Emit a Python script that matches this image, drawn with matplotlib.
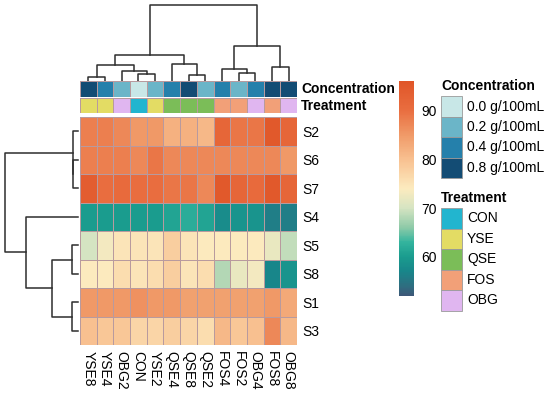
import matplotlib
matplotlib.use("Agg")
import matplotlib.pyplot as plt
import numpy as np
from matplotlib.colors import LinearSegmentedColormap, ListedColormap, Normalize
from matplotlib.cm import ScalarMappable
from matplotlib.patches import Rectangle

plt.rcParams['font.family'] = ['Liberation Sans', 'DejaVu Sans']

# column / row labels in clustered display order
samples = ['YSE8', 'YSE4', 'OBG2', 'CON', 'YSE2', 'QSE4', 'QSE8', 'QSE2',
           'FOS4', 'FOS2', 'OBG4', 'FOS8', 'OBG8']
rows = ['S2', 'S6', 'S7', 'S4', 'S5', 'S8', 'S1', 'S3']

# heatmap values
S2 = [88, 88, 87, 85, 85, 82, 82, 81, 92, 89, 89, 95, 92]
S6 = [88, 88, 88, 87, 89, 87, 87, 87, 87, 87, 87, 87, 85]
S7 = [94, 90, 91, 90, 90, 89, 89, 87, 95, 92, 91, 95, 92]
S4 = [60, 60, 60, 60, 60, 61, 62, 61, 58, 59, 59, 56, 56]
S5 = [70, 73, 75, 75, 75, 78, 75, 74, 74, 74, 74, 72, 69]
S8 = [74, 74, 76, 75, 76, 78, 75, 76, 68, 72, 73, 57, 59]
S1 = [85, 85, 85, 86, 85, 85, 84, 84, 84, 84, 84, 85, 83]
S3 = [80, 79, 79, 77, 77, 78, 77, 76, 81, 79, 80, 87, 81]
values = np.array([S2, S6, S7, S4, S5, S8, S1, S3])

# annotations
conc_levels = ['0.0 g/100mL', '0.2 g/100mL', '0.4 g/100mL', '0.8 g/100mL']
conc_colors = ['#C8E7E7', '#6BB5C8', '#2580AB', '#134C74']
treat_levels = ['CON', 'YSE', 'QSE', 'FOS', 'OBG']
treat_colors = ['#22B5CF', '#E3DC64', '#7BBD58', '#F2A078', '#E0B6F0']
sample_conc = [3, 2, 1, 0, 1, 2, 3, 1, 2, 1, 2, 3, 3]
sample_treat = [treat_levels.index(s[:3]) for s in samples]

# dendrogram merges: (left, right, height); ids >= n are earlier merges
col_merges = [(0, 1, 4), (3, 4, 7), (2, 14, 10), (13, 15, 16), (6, 7, 6),
              (5, 17, 17), (16, 18, 26), (9, 10, 8), (8, 20, 12),
              (11, 12, 14), (21, 22, 35), (19, 23, 76)]
row_merges = [(1, 2, 5), (0, 8, 5.5), (4, 5, 6), (6, 7, 6), (10, 11, 26),
              (3, 12, 52), (9, 13, 73)]

vmin, vmax = 52, 96
cb_ticks = [60, 70, 80, 90]
stops = [52, 54, 57, 60, 63, 66, 70, 74, 80, 85, 90, 96]
stop_colors = ['#3D5878', '#2E6E80', '#18868A', '#1A9C8E', '#34B49E', '#8ECAA8',
               '#D6E4C2', '#FCEBBF', '#F8C090', '#F09A68', '#E96E40', '#E05528']
cmap = LinearSegmentedColormap.from_list(
    'hm', [((s - vmin) / (vmax - vmin), c) for s, c in zip(stops, stop_colors)])

W, H = 550, 396
fig = plt.figure(figsize=(W / 100, H / 100), dpi=100)


def px_axes(x0, y0, x1, y1):
    return fig.add_axes([x0 / W, 1 - y1 / H, (x1 - x0) / W, (y1 - y0) / H])


def draw_dend(ax, merges, n, top):
    pos = {i: i + 0.5 for i in range(n)}
    hgt = {i: 0 for i in range(n)}
    for k, (a, b, h) in enumerate(merges):
        xs = [pos[a], pos[a], pos[b], pos[b]]
        hs = [hgt[a], h, h, hgt[b]]
        if top:
            ax.plot(xs, hs, color='#2E2E2E', lw=1.1, clip_on=False)
        else:
            ax.plot(hs, xs, color='#2E2E2E', lw=1.1, clip_on=False)
        pos[n + k] = (pos[a] + pos[b]) / 2
        hgt[n + k] = h


hx0, hx1 = 80, 297
edge = '#B89A9E'

# column dendrogram
ax = px_axes(hx0, 5, hx1, 81)
draw_dend(ax, col_merges, len(samples), True)
ax.set_xlim(0, len(samples))
ax.set_ylim(0, 76)
ax.axis('off')

# row dendrogram
ax = px_axes(5, 117, 78, 345)
draw_dend(ax, row_merges, len(rows), False)
ax.set_xlim(73, 0)
ax.set_ylim(len(rows), 0)
ax.axis('off')

# annotation rows
for (y0, y1), codes, cols, name in [((81, 97), sample_conc, conc_colors, 'Concentration'),
                                    ((98, 113), sample_treat, treat_colors, 'Treatment')]:
    ax = px_axes(hx0, y0, hx1, y1)
    ax.pcolormesh(np.array([codes]), cmap=ListedColormap(cols), vmin=-0.5,
                  vmax=len(cols) - 0.5, edgecolors=edge, linewidth=0.7)
    ax.set_xlim(0, len(samples))
    ax.axis('off')
    ax.text(1.02, 0.5, name, transform=ax.transAxes, ha='left', va='center',
            fontsize=10, fontweight='bold')

# heatmap
ax = px_axes(hx0, 117, hx1, 345)
ax.pcolormesh(values, cmap=cmap, vmin=vmin, vmax=vmax, edgecolors=edge, linewidth=0.7)
ax.set_xlim(0, len(samples))
ax.set_ylim(len(rows), 0)
ax.set_xticks(np.arange(len(samples)) + 0.5)
ax.set_xticklabels(samples, rotation=270, fontsize=10)
ax.set_yticks(np.arange(len(rows)) + 0.5)
ax.set_yticklabels(rows, fontsize=10)
ax.yaxis.tick_right()
ax.tick_params(length=0, pad=4)
for s in ax.spines.values():
    s.set_visible(False)

# colorbar
cax = px_axes(399, 81, 414, 296)
cb = fig.colorbar(ScalarMappable(norm=Normalize(vmin, vmax), cmap=cmap), cax=cax)
cb.set_ticks(cb_ticks)
cb.outline.set_visible(False)
cax.tick_params(length=0, labelsize=10, pad=5)

# legends
lax = fig.add_axes([0, 0, 1, 1])
lax.set_xlim(0, W)
lax.set_ylim(H, 0)
lax.axis('off')
for title, ty, by, levels, cols in [('Concentration', 86, 96, conc_levels, conc_colors),
                                    ('Treatment', 198.5, 208, treat_levels, treat_colors)]:
    lax.text(441, ty, title, fontsize=10, fontweight='bold', va='center', ha='left')
    for i, (lab, c) in enumerate(zip(levels, cols)):
        lax.add_patch(Rectangle((441, by + i * 20.5), 21, 20.5, facecolor=c,
                                edgecolor='#9A9A9A', lw=0.6))
        lax.text(467, by + i * 20.5 + 10.5, lab, fontsize=10, va='center', ha='left')

fig.savefig('out.png', dpi=100)
